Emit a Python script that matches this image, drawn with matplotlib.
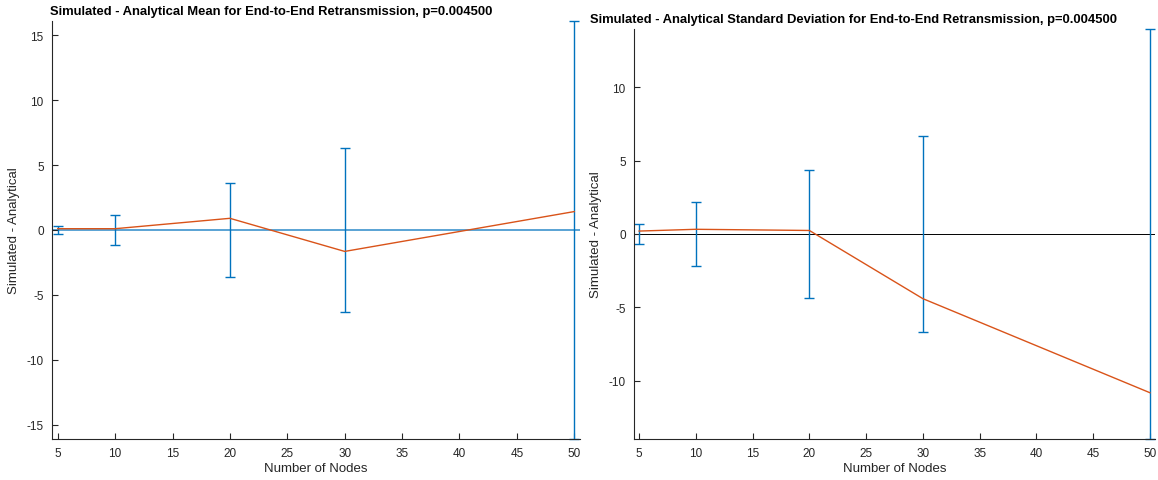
import matplotlib
matplotlib.use("Agg")
import matplotlib.pyplot as plt

nodes = [5, 10, 20, 30, 50]
mean_diff = [0.1, 0.1, 0.9, -1.65, 1.42]
mean_err = [0.33, 1.15, 3.65, 6.35, 16.1]
std_diff = [0.2, 0.32, 0.24, -4.4, -10.8]
std_err = [0.68, 2.19, 4.35, 6.67, 13.95]

left_title = "Simulated - Analytical Mean for End-to-End Retransmission, p=0.004500"
right_title = "Simulated - Analytical Standard Deviation for End-to-End Retransmission, p=0.004500"
xlabel = "Number of Nodes"
ylabel = "Simulated - Analytical"
xticks = [5, 10, 15, 20, 25, 30, 35, 40, 45, 50]
left_yticks = [-15, -10, -5, 0, 5, 10, 15]
right_yticks = [-10, -5, 0, 5, 10]

BLUE = "#0072BD"
ORANGE = "#D95319"
AX = "#262626"

plt.rcParams['font.family'] = ['Liberation Sans', 'DejaVu Sans']
plt.rcParams['axes.unicode_minus'] = False

W, H = 1158, 481
fig = plt.figure(figsize=(W / 100, H / 100), dpi=100)

def pos(x0, x1, y0, y1):
    return [x0 / W, 1 - y1 / H, (x1 - x0) / W, (y1 - y0) / H]

ax1 = fig.add_axes(pos(52, 580, 22, 440))
ax2 = fig.add_axes(pos(634, 1155, 30, 440))

def style(ax, yticks):
    for s in ("top", "right"):
        ax.spines[s].set_visible(False)
    for s in ("left", "bottom"):
        ax.spines[s].set_color(AX)
        ax.spines[s].set_linewidth(0.8)
    ax.tick_params(direction="in", length=4, width=0.8, colors=AX, labelsize=8.5, pad=6)
    ax.set_xticks(xticks)
    ax.set_yticks(yticks)
    ax.set_xlabel(xlabel, fontsize=9.5, color=AX, labelpad=2)
    ax.set_ylabel(ylabel, fontsize=9.5, color=AX, labelpad=5)

# Left: mean
ax1.set_xlim(4.5, 50.5)
ax1.set_ylim(-max(mean_err), max(mean_err))
ax1.axhline(0, color=BLUE, lw=1.3, alpha=0.7, zorder=1)
ax1.errorbar(nodes, [0] * len(nodes), yerr=mean_err, fmt="none", ecolor=BLUE,
             elinewidth=1.0, capsize=3.6, capthick=1.0, clip_on=False, zorder=2)
ax1.plot(nodes, mean_diff, color=ORANGE, lw=1.0, zorder=3)
style(ax1, left_yticks)
ax1.set_title(left_title, fontsize=9.4, fontweight="bold", x=0.415, pad=5)

# Right: std
ax2.set_xlim(4.55, 50.45)
ax2.set_ylim(-max(std_err), max(std_err))
ax2.axhline(0, color="black", lw=0.7, zorder=1)
ax2.errorbar(nodes, [0] * len(nodes), yerr=std_err, fmt="none", ecolor=BLUE,
             elinewidth=1.0, capsize=3.6, capthick=1.0, clip_on=False, zorder=2)
ax2.plot(nodes, std_diff, color=ORANGE, lw=1.0, zorder=3)
style(ax2, right_yticks)
ax2.set_title(right_title, fontsize=9.4, fontweight="bold", x=0.422, pad=5)

fig.savefig("out.png", dpi=100)
